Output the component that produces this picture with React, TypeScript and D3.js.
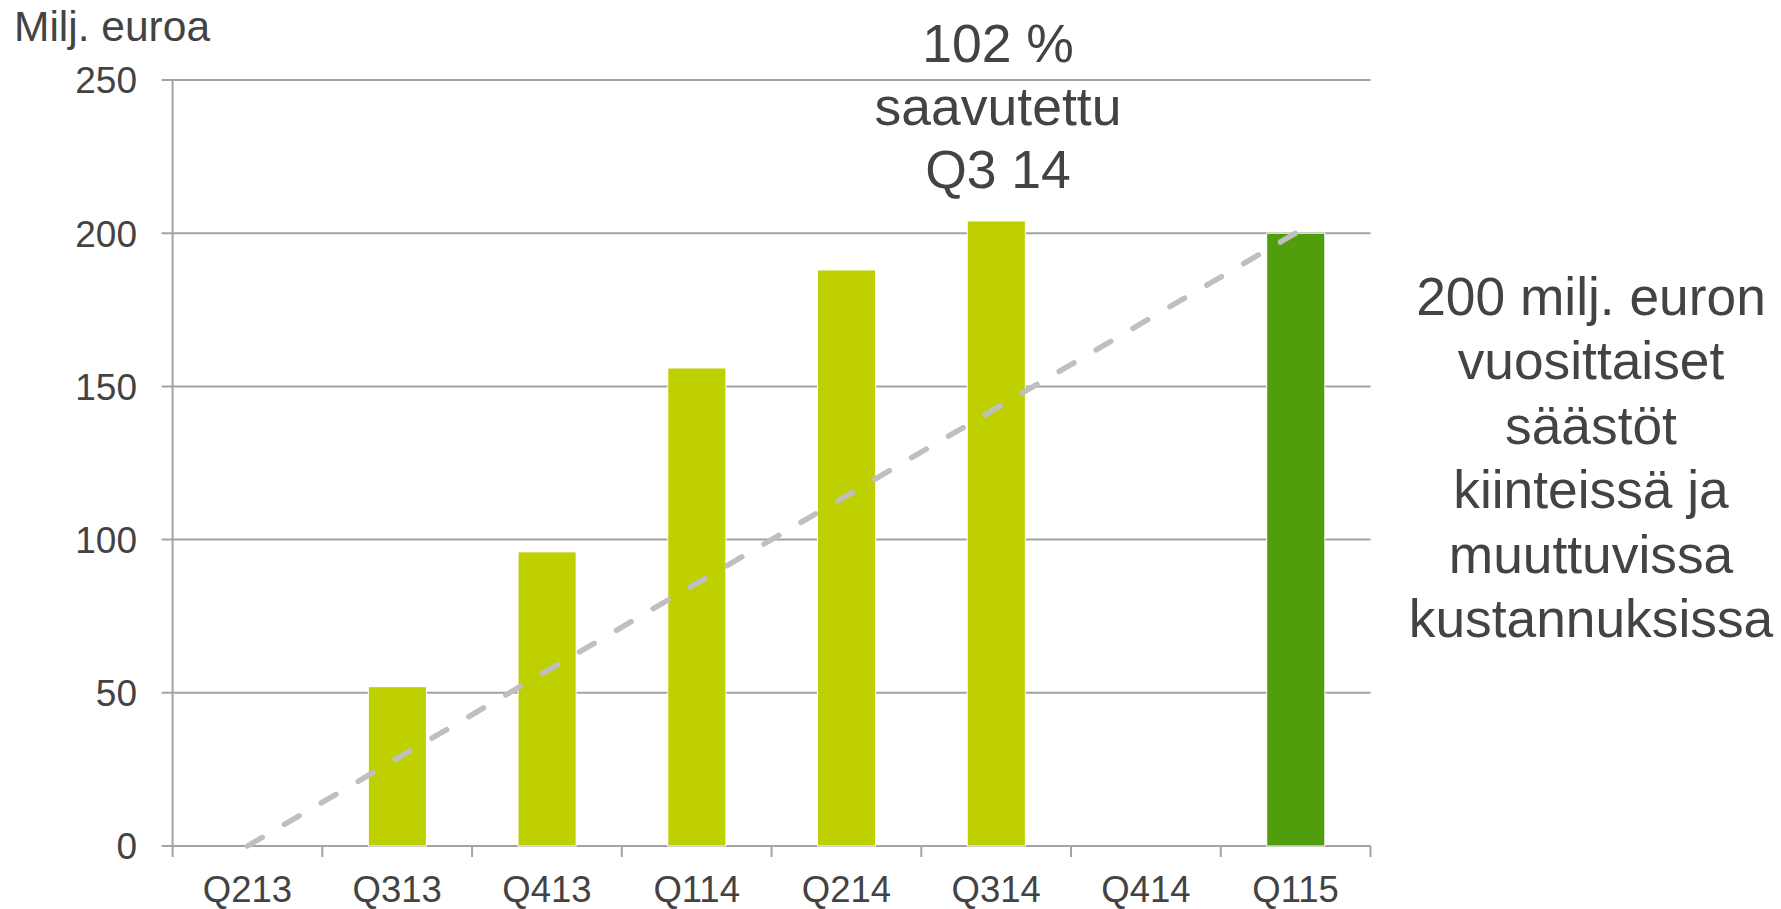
import React, { useEffect, useRef } from 'react';
import * as d3 from 'd3';

// data
const quarters = ['Q213', 'Q313', 'Q413', 'Q114', 'Q214', 'Q314', 'Q414', 'Q115'];
const savings: (number | null)[] = [null, 52, 96, 156, 188, 204, null, 200];
const barColors = ['#bfd000', '#bfd000', '#bfd000', '#bfd000', '#bfd000', '#bfd000', '#bfd000', '#509e0c'];
const targetLine = [
  { q: 'Q213', v: 0 },
  { q: 'Q115', v: 200 },
];
const yTicks = [0, 50, 100, 150, 200, 250];
const topNote = ['102 %', 'saavutettu', 'Q3 14'];
const sideNote = ['200 milj. euron', 'vuosittaiset', 'säästöt', 'kiinteissä ja', 'muuttuvissa', 'kustannuksissa'];

const W = 1781;
const H = 909;
const left = 172.6;
const right = 1370.5;
const top = 80;
const bottom = 846;
const textColor = '#434343';
const gridColor = '#a3a3a3';
const font = '"Liberation Sans", Arial, sans-serif';

export default function App() {
  const ref = useRef<SVGSVGElement>(null);

  useEffect(() => {
    document.body.style.margin = '0';
    const svg = d3.select(ref.current);
    svg.selectAll('*').remove();

    const x = d3.scaleBand().domain(quarters).range([left, right]).padding(0);
    const y = d3.scaleLinear().domain([0, 250]).range([bottom, top]);
    const bw = x.bandwidth();

    // gridlines with little ticks left of the axis
    svg.append('g')
      .selectAll('line')
      .data(yTicks)
      .enter()
      .append('line')
      .attr('x1', left - 11)
      .attr('x2', right)
      .attr('y1', (d) => y(d))
      .attr('y2', (d) => y(d))
      .attr('stroke', gridColor)
      .attr('stroke-width', 2);

    svg.append('g')
      .selectAll('text')
      .data(yTicks)
      .enter()
      .append('text')
      .attr('x', 137)
      .attr('y', (d) => y(d))
      .attr('dy', '0.36em')
      .attr('text-anchor', 'end')
      .attr('font-family', font)
      .attr('font-size', 37)
      .attr('fill', textColor)
      .text((d) => d);

    // y axis line
    svg.append('line')
      .attr('x1', left).attr('x2', left)
      .attr('y1', y(250)).attr('y2', y(0))
      .attr('stroke', gridColor).attr('stroke-width', 2);

    // category boundary ticks
    const bounds = quarters.map((q) => x(q) as number).concat([right]);
    svg.append('g')
      .selectAll('line')
      .data(bounds)
      .enter()
      .append('line')
      .attr('x1', (d) => d).attr('x2', (d) => d)
      .attr('y1', y(0)).attr('y2', y(0) + 11)
      .attr('stroke', gridColor).attr('stroke-width', 2);

    svg.append('g')
      .selectAll('text')
      .data(quarters)
      .enter()
      .append('text')
      .attr('x', (d) => (x(d) as number) + bw / 2)
      .attr('y', 902)
      .attr('text-anchor', 'middle')
      .attr('font-family', font)
      .attr('font-size', 36.5)
      .attr('fill', textColor)
      .text((d) => d);

    // bars
    const barData = quarters
      .map((q, i) => ({ q, v: savings[i], c: barColors[i] }))
      .filter((d) => d.v != null && d.v > 0);
    svg.append('g')
      .selectAll('rect')
      .data(barData)
      .enter()
      .append('rect')
      .attr('x', (d) => (x(d.q) as number) + bw * 0.307)
      .attr('width', bw * 0.388)
      .attr('y', (d) => y(d.v as number))
      .attr('height', (d) => y(0) - y(d.v as number))
      .attr('fill', (d) => d.c)
      .attr('stroke', '#ffffff')
      .attr('stroke-width', 1);

    // target line, dashed
    const line = d3.line<{ q: string; v: number }>()
      .x((d) => (x(d.q) as number) + bw / 2)
      .y((d) => y(d.v));
    svg.append('path')
      .attr('d', line(targetLine))
      .attr('fill', 'none')
      .attr('stroke', '#bfbfbf')
      .attr('stroke-width', 5.5)
      .attr('stroke-linecap', 'round')
      .attr('stroke-dasharray', '17 25.74');

    // texts
    svg.append('text')
      .attr('x', 14).attr('y', 41)
      .attr('font-family', font).attr('font-size', 42.5)
      .attr('fill', textColor)
      .text('Milj. euroa');

    svg.append('g')
      .selectAll('text')
      .data(topNote)
      .enter()
      .append('text')
      .attr('x', 998)
      .attr('y', (d, i) => 62 + i * 63)
      .attr('text-anchor', 'middle')
      .attr('font-family', font).attr('font-size', 53.5)
      .attr('fill', textColor)
      .text((d) => d);

    svg.append('g')
      .selectAll('text')
      .data(sideNote)
      .enter()
      .append('text')
      .attr('x', 1591)
      .attr('y', (d, i) => 315 + i * 64.4)
      .attr('text-anchor', 'middle')
      .attr('font-family', font).attr('font-size', 53.3)
      .attr('fill', textColor)
      .text((d) => d);
  }, []);

  return (
    <svg
      ref={ref}
      width={W}
      height={H}
      style={{ position: 'absolute', left: 0, top: 0, display: 'block', background: '#fff' }}
    />
  );
}
